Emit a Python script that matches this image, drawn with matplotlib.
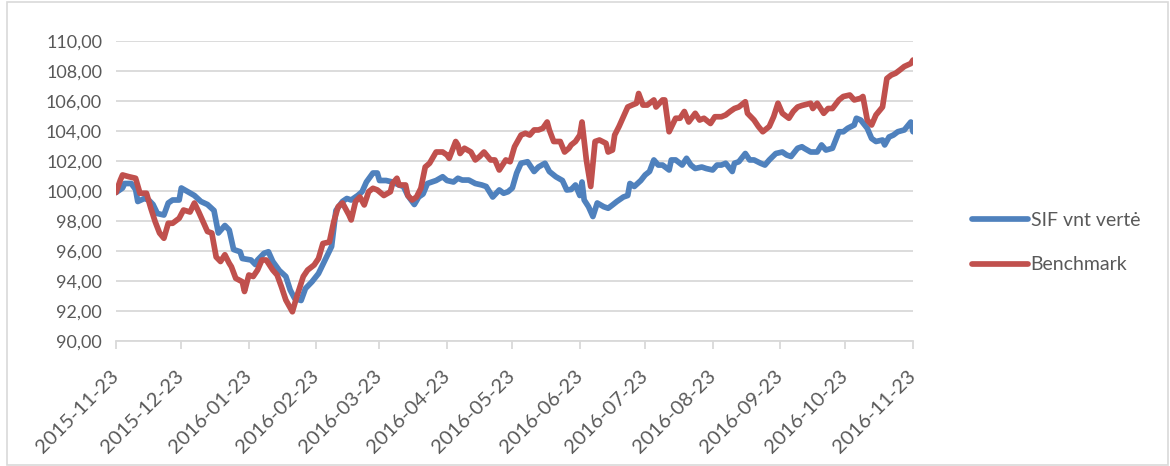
import matplotlib
matplotlib.use('Agg')
import matplotlib.pyplot as plt
import matplotlib.transforms as mtransforms
import pandas as pd
from matplotlib.patches import Rectangle

# SIF vnt verte
sif_dates = ['2015-11-23', '2015-11-26', '2015-11-27', '2015-11-30', '2015-12-02', '2015-12-03',
             '2015-12-06', '2015-12-08', '2015-12-10', '2015-12-12', '2015-12-15', '2015-12-17',
             '2015-12-19', '2015-12-22', '2015-12-23', '2015-12-26', '2015-12-29', '2016-01-01',
             '2016-01-04', '2016-01-07', '2016-01-09', '2016-01-12', '2016-01-14', '2016-01-16',
             '2016-01-19', '2016-01-20', '2016-01-24', '2016-01-26', '2016-01-27', '2016-01-30',
             '2016-02-01', '2016-02-03', '2016-02-06', '2016-02-09', '2016-02-11', '2016-02-13',
             '2016-02-16', '2016-02-18', '2016-02-21', '2016-02-24', '2016-02-27', '2016-03-01',
             '2016-03-03', '2016-03-06', '2016-03-08', '2016-03-10', '2016-03-13', '2016-03-15',
             '2016-03-17', '2016-03-20', '2016-03-22', '2016-03-23', '2016-03-26', '2016-03-29',
             '2016-04-01', '2016-04-03', '2016-04-05', '2016-04-08', '2016-04-10', '2016-04-12',
             '2016-04-14', '2016-04-18', '2016-04-21', '2016-04-23', '2016-04-26', '2016-04-28',
             '2016-04-30', '2016-05-03', '2016-05-06', '2016-05-09', '2016-05-11', '2016-05-14',
             '2016-05-17', '2016-05-19', '2016-05-21', '2016-05-23', '2016-05-25', '2016-05-27',
             '2016-05-30', '2016-06-02', '2016-06-04', '2016-06-07', '2016-06-09', '2016-06-12',
             '2016-06-15', '2016-06-17', '2016-06-19', '2016-06-21', '2016-06-23', '2016-06-24',
             '2016-06-25', '2016-06-27', '2016-06-29', '2016-07-01', '2016-07-04', '2016-07-06',
             '2016-07-08', '2016-07-10', '2016-07-13', '2016-07-15', '2016-07-16', '2016-07-18',
             '2016-07-21', '2016-07-23', '2016-07-25', '2016-07-27', '2016-07-29', '2016-07-31',
             '2016-08-03', '2016-08-04', '2016-08-06', '2016-08-09', '2016-08-11', '2016-08-13',
             '2016-08-15', '2016-08-18', '2016-08-20', '2016-08-23', '2016-08-25', '2016-08-27',
             '2016-08-29', '2016-09-01', '2016-09-02', '2016-09-04', '2016-09-07', '2016-09-09',
             '2016-09-11', '2016-09-14', '2016-09-16', '2016-09-18', '2016-09-21', '2016-09-24',
             '2016-09-26', '2016-09-28', '2016-10-01', '2016-10-03', '2016-10-04', '2016-10-07',
             '2016-10-10', '2016-10-12', '2016-10-14', '2016-10-17', '2016-10-20', '2016-10-22',
             '2016-10-24', '2016-10-27', '2016-10-28', '2016-10-30', '2016-11-02', '2016-11-04',
             '2016-11-06', '2016-11-09', '2016-11-10', '2016-11-12', '2016-11-14', '2016-11-16',
             '2016-11-19', '2016-11-22', '2016-11-23']
sif_vals = [99.9, 100.2, 100.5, 100.5, 100.1, 99.3,
            99.5, 99.4, 99.1, 98.5, 98.4, 99.2,
            99.4, 99.4, 100.2, 99.95, 99.7, 99.3,
            99.1, 98.7, 97.2, 97.7, 97.4, 96.1,
            95.95, 95.5, 95.4, 95.1, 95.4, 95.85,
            95.95, 95.3, 94.7, 94.3, 93.4, 92.85,
            92.7, 93.5, 93.95, 94.5, 95.4, 96.3,
            98.7, 99.3, 99.5, 99.4, 99.7, 99.95,
            100.6, 101.2, 101.2, 100.7, 100.7, 100.6,
            100.4, 100.3, 99.7, 99.1, 99.6, 99.8,
            100.5, 100.7, 100.95, 100.7, 100.6, 100.85,
            100.73, 100.73, 100.5, 100.4, 100.3, 99.6,
            100.07, 99.85, 99.95, 100.2, 101.2, 101.85,
            101.95, 101.3, 101.6, 101.85, 101.3, 100.95,
            100.7, 100.07, 100.1, 100.4, 99.7, 100.6,
            99.4, 98.95, 98.3, 99.2, 98.95, 98.85,
            99.07, 99.3, 99.6, 99.7, 100.5, 100.3,
            100.7, 101.07, 101.3, 102.07, 101.73, 101.73,
            101.4, 102.07, 102.07, 101.73, 102.18, 101.73,
            101.5, 101.6, 101.5, 101.4, 101.73, 101.73,
            101.85, 101.3, 101.85, 101.95, 102.5, 102.07,
            102.07, 101.85, 101.73, 102.07, 102.5, 102.6,
            102.4, 102.3, 102.85, 102.95, 102.85, 102.6,
            102.6, 103.07, 102.73, 102.85, 103.95, 103.95,
            104.18, 104.4, 104.85, 104.73, 104.18, 103.5,
            103.3, 103.4, 103.07, 103.6, 103.73, 103.95,
            104.07, 104.6, 103.95]

# Benchmark
bench_dates = ['2015-11-23', '2015-11-25', '2015-11-26', '2015-11-29', '2015-12-02', '2015-12-04',
               '2015-12-07', '2015-12-09', '2015-12-11', '2015-12-13', '2015-12-15', '2015-12-17',
               '2015-12-19', '2015-12-22', '2015-12-24', '2015-12-27', '2015-12-29', '2015-12-31',
               '2016-01-02', '2016-01-04', '2016-01-06', '2016-01-08', '2016-01-10', '2016-01-12',
               '2016-01-14', '2016-01-15', '2016-01-17', '2016-01-20', '2016-01-21', '2016-01-23',
               '2016-01-25', '2016-01-27', '2016-01-29', '2016-01-31', '2016-02-03', '2016-02-05',
               '2016-02-07', '2016-02-09', '2016-02-12', '2016-02-14', '2016-02-17', '2016-02-19',
               '2016-02-22', '2016-02-24', '2016-02-26', '2016-02-29', '2016-03-02', '2016-03-04',
               '2016-03-06', '2016-03-09', '2016-03-10', '2016-03-12', '2016-03-14', '2016-03-16',
               '2016-03-18', '2016-03-20', '2016-03-22', '2016-03-25', '2016-03-28', '2016-03-29',
               '2016-03-31', '2016-04-01', '2016-04-04', '2016-04-05', '2016-04-07', '2016-04-09',
               '2016-04-11', '2016-04-13', '2016-04-15', '2016-04-18', '2016-04-21', '2016-04-23',
               '2016-04-24', '2016-04-27', '2016-04-28', '2016-04-29', '2016-05-01', '2016-05-04',
               '2016-05-06', '2016-05-08', '2016-05-10', '2016-05-13', '2016-05-15', '2016-05-17',
               '2016-05-20', '2016-05-22', '2016-05-24', '2016-05-27', '2016-05-29', '2016-05-31',
               '2016-06-02', '2016-06-04', '2016-06-06', '2016-06-08', '2016-06-09', '2016-06-11',
               '2016-06-14', '2016-06-16', '2016-06-18', '2016-06-19', '2016-06-21', '2016-06-23',
               '2016-06-24', '2016-06-26', '2016-06-28', '2016-06-30', '2016-07-02', '2016-07-05',
               '2016-07-06', '2016-07-08', '2016-07-09', '2016-07-11', '2016-07-13', '2016-07-15',
               '2016-07-17', '2016-07-19', '2016-07-20', '2016-07-22', '2016-07-24', '2016-07-27',
               '2016-07-28', '2016-07-31', '2016-08-01', '2016-08-03', '2016-08-06', '2016-08-08',
               '2016-08-10', '2016-08-12', '2016-08-15', '2016-08-17', '2016-08-19', '2016-08-22',
               '2016-08-24', '2016-08-27', '2016-08-29', '2016-08-31', '2016-09-02', '2016-09-04',
               '2016-09-07', '2016-09-08', '2016-09-11', '2016-09-13', '2016-09-15', '2016-09-18',
               '2016-09-20', '2016-09-22', '2016-09-24', '2016-09-27', '2016-09-29', '2016-10-01',
               '2016-10-03', '2016-10-07', '2016-10-08', '2016-10-10', '2016-10-13', '2016-10-15',
               '2016-10-17', '2016-10-20', '2016-10-22', '2016-10-25', '2016-10-27', '2016-10-30',
               '2016-10-31', '2016-11-02', '2016-11-04', '2016-11-06', '2016-11-09', '2016-11-11',
               '2016-11-13', '2016-11-15', '2016-11-17', '2016-11-19', '2016-11-22', '2016-11-23']
bench_vals = [99.9, 100.73, 101.07, 100.95, 100.85, 99.85,
              99.85, 98.85, 97.95, 97.2, 96.85, 97.85,
              97.85, 98.18, 98.73, 98.6, 99.2, 98.6,
              97.95, 97.3, 97.2, 95.6, 95.3, 95.75,
              95.18, 94.95, 94.18, 93.95, 93.3, 94.4,
              94.3, 94.73, 95.4, 95.4, 94.73, 94.4,
              93.6, 92.73, 91.95, 92.95, 94.3, 94.73,
              95.07, 95.5, 96.5, 96.6, 97.95, 98.95,
              99.2, 98.4, 98.07, 99.3, 99.6, 99.07,
              99.95, 100.18, 100.07, 99.7, 99.95, 100.5,
              100.85, 100.4, 100.4, 99.7, 99.4, 99.6,
              100.18, 101.6, 101.85, 102.6, 102.6, 102.4,
              102.18, 103.3, 103.07, 102.5, 102.85, 102.6,
              102.07, 102.3, 102.6, 102.07, 102.07, 101.4,
              102.07, 101.95, 102.95, 103.73, 103.85, 103.73,
              104.07, 104.07, 104.18, 104.6, 104.07, 103.3,
              103.3, 102.6, 102.85, 103.07, 103.3, 103.73,
              104.6, 102.07, 100.3, 103.3, 103.4, 103.18,
              102.6, 102.73, 103.73, 104.3, 104.95, 105.6,
              105.73, 105.85, 106.5, 105.73, 105.73, 106.07,
              105.6, 106.07, 106.07, 103.95, 104.85, 104.85,
              105.3, 104.6, 105.18, 104.73, 104.85, 104.5,
              104.95, 104.95, 105.07, 105.3, 105.5, 105.6,
              105.95, 105.18, 104.73, 104.3, 103.95, 104.3,
              104.95, 105.85, 105.18, 104.85, 105.3, 105.6,
              105.7, 105.85, 105.5, 105.85, 105.18, 105.5,
              105.5, 106.07, 106.3, 106.4, 106.07, 106.18,
              106.3, 104.73, 104.4, 105.07, 105.6, 107.5,
              107.73, 107.85, 108.07, 108.3, 108.5, 108.73]

tick_dates = ['2015-11-23', '2015-12-23', '2016-01-23', '2016-02-23', '2016-03-23', '2016-04-23',
              '2016-05-23', '2016-06-23', '2016-07-23', '2016-08-23', '2016-09-23', '2016-10-23',
              '2016-11-23']

txt = '#595959'
plt.rcParams['font.family'] = ['Lato', 'DejaVu Sans']

fig = plt.figure(figsize=(11.7, 4.66), dpi=100)
ax = fig.add_axes([116 / 1170, 1 - 341 / 466, (913 - 116) / 1170, 300 / 466])

ax.plot(pd.to_datetime(sif_dates), sif_vals, color='#4f81bd', lw=4.1,
        solid_joinstyle='round', solid_capstyle='round', label='SIF vnt vertė', zorder=3)
ax.plot(pd.to_datetime(bench_dates), bench_vals, color='#c0504d', lw=4.1,
        solid_joinstyle='round', solid_capstyle='round', label='Benchmark', zorder=3)

ax.set_ylim(90, 110)
ax.set_yticks(range(90, 111, 2))
ax.set_yticklabels([f'{v},00' for v in range(90, 111, 2)])
ticks = pd.to_datetime(tick_dates)
ax.set_xlim(ticks[0], ticks[-1])
ax.set_xticks(ticks)
ax.set_xticklabels([])

# slanted date labels, placed like excel does (a bit left of and below the tick)
shift = mtransforms.ScaledTranslation(-6 / 100, -26 / 100, fig.dpi_scale_trans)
for d, s in zip(ticks, tick_dates):
    ax.text(d, 0, s, transform=ax.get_xaxis_transform() + shift, rotation=45,
            ha='right', va='top', rotation_mode='anchor', fontsize=14.5, color=txt)

ax.grid(axis='y', color='#d9d9d9', lw=1.3)
ax.set_axisbelow(True)
for s in ['top', 'right', 'left']:
    ax.spines[s].set_visible(False)
ax.spines['bottom'].set_color('#d9d9d9')
ax.spines['bottom'].set_linewidth(1.3)
ax.tick_params(axis='y', length=0, pad=10, labelsize=13, labelcolor=txt)
ax.tick_params(axis='x', length=6, width=1.3, color='#d9d9d9')

leg = fig.legend(loc='center left', bbox_to_anchor=(0.831, 0.479), frameon=False,
                 fontsize=14, handlelength=2.85, handletextpad=0.15, labelspacing=1.4,
                 borderpad=0, borderaxespad=0)
for t in leg.get_texts():
    t.set_color(txt)

# outer chart border
fig.patches.append(Rectangle((7 / 1170, 1 / 466), 1 - 9 / 1170, 1 - 3 / 466,
                             transform=fig.transFigure, fill=False, ec='#d9d9d9', lw=1.2))

fig.savefig('out.png', dpi=100)
